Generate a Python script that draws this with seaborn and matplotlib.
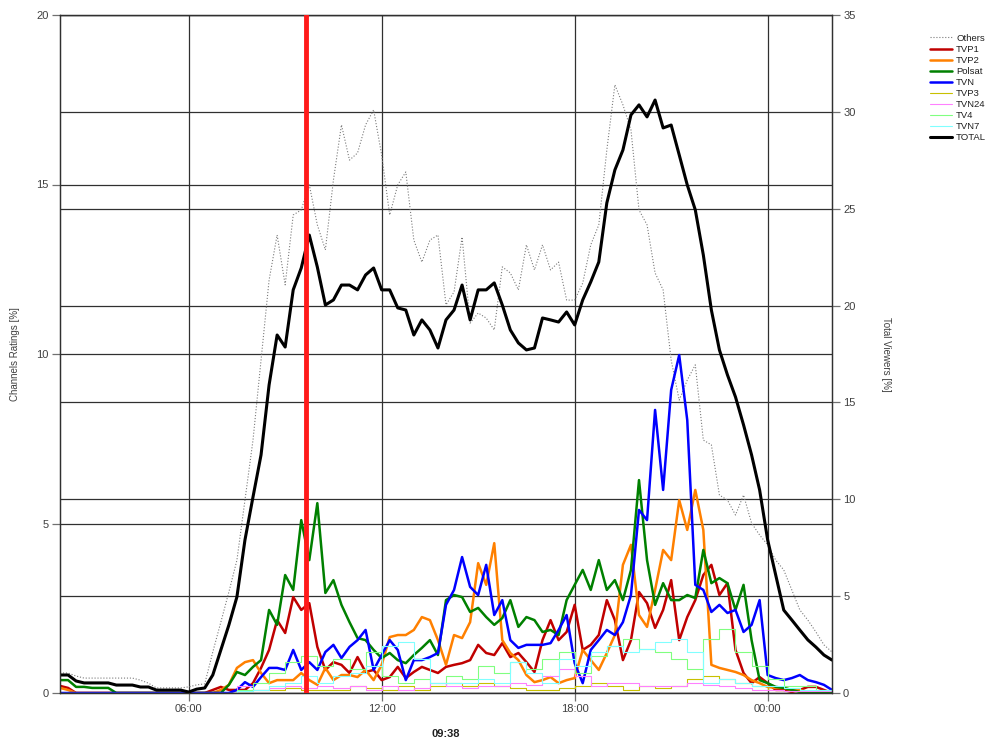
import numpy as np
import matplotlib
matplotlib.use('Agg')
import matplotlib.pyplot as plt
import seaborn as sns

# czas: 02:00 -> 02:00 nastepnego dnia (godziny), co 15 min i co 30 min
t15 = 2 + np.arange(97) * 0.25
t30 = 2 + np.arange(49) * 0.5
marker_time = 9 + 38 / 60  # 09:38

xtick_pos = [6, 12, 18, 24]
xtick_labels = ['06:00', '12:00', '18:00', '00:00']
left_ticks = [0, 5, 10, 15, 20]
right_ticks = [0, 5, 10, 15, 20, 25, 30, 35]

# TOTAL [% widzow] - prawa os
total = [0.93, 0.93, 0.62, 0.52, 0.52, 0.52, 0.52, 0.41, 0.41, 0.41,
         0.31, 0.31, 0.15, 0.15, 0.15, 0.15, 0.05, 0.20, 0.26, 0.93,
         2.22, 3.51, 4.96, 7.90, 10.12, 12.29, 15.90, 18.48, 17.86, 20.81,
         21.94, 23.64, 21.99, 20.03, 20.29, 21.06, 21.06, 20.81, 21.58, 21.94,
         20.81, 20.81, 19.88, 19.77, 18.48, 19.26, 18.74, 17.81, 19.26, 19.77,
         21.06, 19.26, 20.81, 20.81, 21.17, 20.03, 18.74, 18.07, 17.71, 17.81,
         19.36, 19.26, 19.15, 19.67, 19.00, 20.29, 21.22, 22.25, 25.30, 27.00,
         28.03, 29.84, 30.36, 29.74, 30.61, 29.17, 29.32, 27.78, 26.23, 24.94,
         22.61, 19.77, 17.71, 16.42, 15.28, 13.84, 12.29, 10.48, 7.90, 6.09,
         4.28, 3.77, 3.25, 2.74, 2.37, 1.96, 1.70]

# kanaly [% ogladalnosci] - lewa os
others = [0.59, 0.59, 0.50, 0.44, 0.44, 0.44, 0.44, 0.44, 0.44, 0.44,
          0.38, 0.29, 0.15, 0.15, 0.15, 0.15, 0.18, 0.24, 0.27, 1.21,
          2.09, 2.98, 3.92, 5.69, 7.46, 9.82, 12.18, 13.51, 12.04, 14.10,
          14.25, 14.99, 13.81, 13.07, 15.13, 16.76, 15.72, 15.93, 16.76, 17.20,
          15.87, 14.10, 14.99, 15.37, 13.36, 12.71, 13.36, 13.51, 11.45, 11.83,
          13.45, 10.91, 11.21, 11.06, 10.71, 12.57, 12.39, 11.89, 13.22, 12.48,
          13.22, 12.48, 12.71, 11.59, 11.59, 12.09, 13.22, 13.81, 16.02, 17.94,
          17.35, 16.61, 14.25, 13.81, 12.39, 11.89, 9.82, 8.64, 9.23, 9.68,
          7.46, 7.32, 5.84, 5.69, 5.25, 5.84, 5.01, 4.66, 4.37, 3.92,
          3.63, 3.04, 2.45, 2.15, 1.80, 1.42, 1.21]

tvp1 = [0.21, 0.15, 0, 0, 0, 0, 0, 0, 0, 0,
        0, 0, 0, 0, 0, 0, 0, 0, 0, 0.09,
        0.18, 0.09, 0.09, 0.09, 0.29, 0.74, 1.27, 2.15, 1.77, 2.83,
        2.45, 2.65, 1.36, 0.68, 0.91, 0.83, 0.59, 1.06, 0.62, 0.68,
        0.38, 0.47, 0.77, 0.44, 0.62, 0.77, 0.68, 0.59, 0.77, 0.83,
        0.88, 0.97, 1.42, 1.18, 1.12, 1.47, 1.06, 1.18, 0.91, 0.62,
        1.56, 2.15, 1.56, 1.80, 2.60, 1.27, 1.42, 1.71, 2.74, 2.15,
        0.97, 1.56, 2.98, 2.65, 1.92, 2.45, 3.33, 1.56, 2.24, 2.74,
        3.48, 3.78, 2.89, 3.24, 1.27, 0.59, 0.29, 0.47, 0.29, 0.09,
        0.09, 0.03, 0.09, 0.18, 0.18, 0.09, 0]

tvp2 = [0.15, 0.09, 0, 0, 0, 0, 0, 0, 0, 0,
        0, 0, 0, 0, 0, 0, 0, 0, 0, 0,
        0.09, 0.24, 0.74, 0.91, 0.97, 0.59, 0.29, 0.38, 0.38, 0.38,
        0.59, 0.38, 0.24, 0.74, 0.38, 0.53, 0.53, 0.47, 0.68, 0.38,
        0.83, 1.65, 1.71, 1.71, 1.86, 2.24, 2.15, 1.56, 0.83, 1.71,
        1.62, 2.09, 3.83, 3.19, 4.42, 1.56, 1.18, 0.97, 0.53, 0.32,
        0.38, 0.47, 0.29, 0.38, 0.44, 1.27, 0.97, 0.68, 1.18, 1.71,
        3.78, 4.37, 2.30, 1.95, 3.04, 4.22, 3.92, 5.69, 4.81, 5.99,
        4.81, 0.83, 0.74, 0.68, 0.62, 0.53, 0.38, 0.29, 0.18, 0.15,
        0.15, 0.09, 0.09, 0.03, 0, 0, 0]

polsat = [0.38, 0.38, 0.18, 0.18, 0.15, 0.15, 0.15, 0, 0, 0,
          0, 0, 0, 0, 0, 0, 0, 0, 0, 0,
          0, 0.24, 0.62, 0.53, 0.77, 0.97, 2.45, 2.01, 3.48, 3.04,
          5.10, 3.92, 5.60, 2.95, 3.33, 2.60, 2.09, 1.62, 1.56, 1.27,
          1.03, 1.18, 0.97, 0.88, 1.12, 1.33, 1.56, 1.12, 2.74, 2.89,
          2.83, 2.39, 2.51, 2.24, 2.01, 2.21, 2.74, 1.95, 2.24, 2.15,
          1.80, 1.86, 1.71, 2.74, 3.19, 3.63, 3.04, 3.92, 3.04, 3.33,
          2.74, 3.63, 6.28, 3.92, 2.60, 3.24, 2.74, 2.74, 2.89, 2.80,
          4.22, 3.24, 3.39, 3.24, 2.45, 3.19, 1.56, 0.38, 0.29, 0.18,
          0.15, 0.09, 0.03, 0, 0, 0, 0]

tvn = [0, 0, 0, 0, 0, 0, 0, 0, 0, 0,
       0, 0, 0, 0, 0, 0, 0, 0, 0, 0,
       0, 0, 0.09, 0.32, 0.18, 0.47, 0.74, 0.74, 0.68, 1.27,
       0.68, 0.91, 0.68, 1.21, 1.42, 1.03, 1.36, 1.56, 1.86, 0.68,
       1.12, 1.56, 1.27, 0.38, 0.97, 0.97, 1.06, 1.18, 2.60, 3.04,
       4.01, 3.13, 2.89, 3.78, 2.30, 2.74, 1.56, 1.33, 1.42, 1.42,
       1.42, 1.47, 1.86, 2.30, 0.88, 0.29, 1.27, 1.56, 1.86, 1.71,
       2.09, 2.89, 5.40, 5.10, 8.35, 5.99, 8.94, 9.97, 8.05, 3.19,
       3.04, 2.39, 2.60, 2.36, 2.45, 1.80, 2.01, 2.74, 0.53, 0.44,
       0.38, 0.44, 0.53, 0.38, 0.32, 0.24, 0.09]

# mniejsze kanaly, co 30 min
tvp3 = [0, 0, 0, 0, 0, 0, 0, 0, 0, 0,
        0, 0.05, 0.1, 0.1, 0.15, 0.1, 0.1, 0.1, 0.2, 0.15,
        0.1, 0.2, 0.1, 0.2, 0.3, 0.2, 0.3, 0.2, 0.15, 0.1,
        0.1, 0.15, 0.2, 0.3, 0.2, 0.1, 0.2, 0.15, 0.2, 0.4,
        0.5, 0.4, 0.3, 0.2, 0.1, 0.05, 0.05, 0.05, 0.05]

tvn24 = [0, 0, 0, 0, 0, 0, 0, 0, 0, 0,
         0, 0.2, 0.1, 0.15, 0.2, 0.15, 0.2, 0.15, 0.2, 0.1,
         0.2, 0.1, 0.15, 0.3, 0.2, 0.15, 0.2, 0.2, 0.3, 0.25,
         0.5, 0.7, 0.5, 0.2, 0.3, 0.3, 0.2, 0.2, 0.2, 0.3,
         0.25, 0.2, 0.15, 0.1, 0.1, 0.05, 0.05, 0.05, 0.05]

tv4 = [0, 0, 0, 0, 0, 0, 0, 0, 0, 0,
       0, 0.1, 0.3, 0.6, 0.9, 1.1, 0.8, 1.0, 0.7, 1.2,
       0.5, 0.3, 0.4, 0.3, 0.5, 0.4, 0.8, 0.6, 0.9, 0.7,
       1.0, 1.2, 0.6, 1.1, 1.4, 1.6, 1.3, 1.2, 1.0, 0.7,
       1.6, 1.9, 1.2, 0.8, 0.4, 0.2, 0.2, 0.1, 0.1]

tvn7 = [0, 0, 0, 0, 0, 0, 0, 0, 0, 0,
        0, 0.05, 0.1, 0.2, 0.3, 0.5, 0.3, 0.5, 0.6, 0.8,
        1.4, 1.5, 1.0, 0.3, 0.3, 0.3, 0.4, 0.3, 0.9, 0.6,
        0.3, 1.0, 0.8, 1.2, 1.4, 1.2, 1.3, 1.5, 1.6, 1.2,
        0.3, 0.4, 0.3, 0.2, 0.2, 0.15, 0.1, 0.1, 0.1]

# Styl
sns.set_style('white')
plt.rcParams['font.family'] = ['Liberation Sans', 'DejaVu Sans']
text_col = '#404040'
grid_col = '#303030'

fig = plt.figure(figsize=(9.89, 7.43), dpi=100)
ax = fig.add_axes([60 / 989, 1 - 693 / 743, 772 / 989, 678 / 743])
ax2 = ax.twinx()

# Siatka (lewa + prawa os) rysowana na dolnej osi
ax.set_axisbelow(True)
ax.grid(True, color=grid_col, lw=0.9)
for v in right_ticks:
    ax.axhline(v * 20 / 35, color=grid_col, lw=0.9, zorder=0.5)

# Kanaly
big = [('Others', t15, others, '#7a7a7a', 0.8, ':'),
       ('TVP1', t15, tvp1, '#c00000', 1.8, '-'),
       ('TVP2', t15, tvp2, '#ff8000', 1.8, '-'),
       ('Polsat', t15, polsat, '#008000', 1.8, '-'),
       ('TVN', t15, tvn, '#0000ff', 1.8, '-'),
       ('TVP3', t30, tvp3, '#c8c000', 0.8, '-'),
       ('TVN24', t30, tvn24, '#ff80ff', 0.8, '-'),
       ('TV4', t30, tv4, '#80ff80', 0.8, '-'),
       ('TVN7', t30, tvn7, '#80ffff', 0.8, '-')]

for name, tt, vals, col, lw, ls in big:
    kw = {}
    if tt is t30:
        kw['drawstyle'] = 'steps-post'
    sns.lineplot(x=tt, y=vals, ax=ax, color=col, lw=lw, linestyle=ls,
                 label=name, legend=False, **kw)

# TOTAL na prawej osi
sns.lineplot(x=t15, y=total, ax=ax2, color='black', lw=2.2,
             label='TOTAL', legend=False)

# Znacznik czasu
ax2.axvline(marker_time, color='#ff1a1a', lw=3.5, zorder=5)

ax.set_xlim(2, 26)
ax.set_ylim(0, 20)
ax2.set_ylim(0, 35)
ax.set_xticks(xtick_pos)
ax.set_xticklabels(xtick_labels)
ax.set_yticks(left_ticks)
ax2.set_yticks(right_ticks)
ax2.grid(False)

for a in (ax, ax2):
    for sp in a.spines.values():
        sp.set_color(grid_col)
        sp.set_linewidth(0.9)
    a.tick_params(direction='out', length=6, width=0.9, color='#707070',
                  labelsize=8, labelcolor=text_col, pad=2)
ax.tick_params(bottom=True, left=True)
ax2.tick_params(right=True)

ax.set_ylabel('Channels Ratings [%]', fontsize=7, color=text_col, va='center')
ax.yaxis.set_label_coords((15 - 60) / 772, 0.5)
ax2.set_ylabel('Total Viewers [%]', fontsize=7, color=text_col,
               rotation=270, va='center')
ax2.yaxis.set_label_coords((886 - 60) / 772, 0.5)
ax.set_xlabel('09:38', fontsize=8, fontweight='bold', color='#202020')
ax.xaxis.set_label_coords(0.5, (693 - 729) / 678)

h1, l1 = ax.get_legend_handles_labels()
h2, l2 = ax2.get_legend_handles_labels()
fig.legend(h1 + h2, l1 + l2, loc='upper left',
           bbox_to_anchor=(926 / 989, 1 - 30 / 743), frameon=False,
           fontsize=6.8, handlelength=2.4, handletextpad=0.4,
           labelspacing=0.22, borderaxespad=0, labelcolor='#202020')

fig.savefig('out.png', dpi=100, facecolor='white')
